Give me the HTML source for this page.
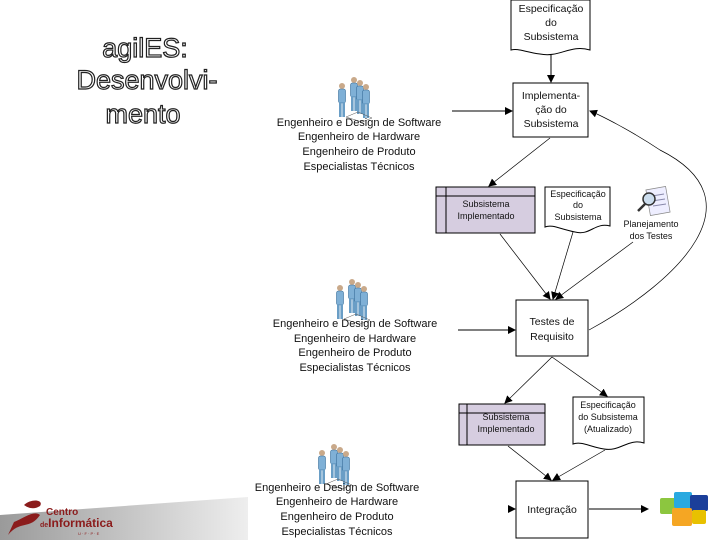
<!DOCTYPE html>
<html><head><meta charset="utf-8"><style>
html,body{margin:0;padding:0;background:#fff;}
svg{display:block;}
text{font-family:"Liberation Sans",sans-serif;}
</style></head><body>
<svg width="720" height="540" viewBox="0 0 720 540" xmlns="http://www.w3.org/2000/svg">
<defs>
<marker id="a" markerWidth="8" markerHeight="8" refX="7" refY="4" orient="auto" markerUnits="userSpaceOnUse"><path d="M0,0 L8,4 L0,8 z" fill="#000"/></marker>
<g id="p1"><circle cx="0" cy="0" r="3" fill="#c9a98a"/><rect x="-3.5" y="3" width="7" height="14" rx="2" fill="#7fb0d6" stroke="#3a6f99" stroke-width="0.6"/><rect x="-3" y="16" width="2.6" height="15" fill="#6a9ec6"/><rect x="0.4" y="16" width="2.6" height="15" fill="#6a9ec6"/></g>
<g id="ppl"><use href="#p1" x="6" y="8"/><use href="#p1" x="18" y="2"/><use href="#p1" x="24" y="5"/><use href="#p1" x="30" y="9"/><path d="M10 39 L22 34 L36 40 L26 44 z" fill="none" stroke="#555" stroke-width="0.5"/></g>
<linearGradient id="g" x1="0" x2="1"><stop offset="0" stop-color="#9a9a9a"/><stop offset="1" stop-color="#eeeeee"/></linearGradient>
</defs>

<!-- title -->
<g font-family="Liberation Sans" font-size="27" text-anchor="middle" fill="#fff" stroke="#222" stroke-width="1.2">
<text x="145" y="57">agilES:</text>
<text x="147" y="89">Desenvolvi-</text>
<text x="143" y="123">mento</text>
</g>

<!-- logo area -->
<path d="M0 540 L0 515 L248 497 L248 540 z" fill="url(#g)"/>
<path d="M8 535 C20 520 30 530 40 515 C34 510 24 518 14 522 z" fill="#8b1c1c"/>
<path d="M24 505 C32 498 44 500 40 506 C34 510 28 508 24 505 z" fill="#8b1c1c"/>
<text x="46" y="515" font-size="10" font-weight="bold" fill="#8b1c1c">Centro</text>
<text x="40" y="527" font-size="12" font-weight="bold" fill="#8b1c1c"><tspan font-size="7">de</tspan>Informática</text>
<text x="78" y="535" font-size="4" fill="#8b1c1c">U · F · P · E</text>

<g stroke="#000" stroke-width="1" fill="#fff">
<path d="M511 0 L590 0 L590 50 C570 44 560 58 540 54 C525 52 518 48 511 50 z"/>
<rect x="513" y="83" width="75" height="54"/>
<rect x="436" y="187" width="99" height="46" fill="#d6cde0"/>
<line x1="446" y1="187" x2="446" y2="233"/><line x1="436" y1="196" x2="535" y2="196"/>
<path d="M545 187 L610 187 L610 226 C595 222 590 236 575 232 C560 229 552 224 545 227 z"/>
<rect x="516" y="300" width="72" height="56"/>
<rect x="459" y="404" width="86" height="41" fill="#d6cde0"/>
<line x1="467" y1="404" x2="467" y2="445"/><line x1="459" y1="413" x2="545" y2="413"/>
<path d="M573 397 L644 397 L644 443 C628 438 620 452 604 449 C590 447 582 441 573 444 z"/>
<rect x="516" y="481" width="72" height="57"/>
</g>

<g stroke="#000" fill="none" stroke-width="1">
<line x1="551" y1="55" x2="551" y2="82" marker-end="url(#a)"/>
<line x1="452" y1="111" x2="512" y2="111" marker-end="url(#a)"/>
<g stroke-width="0.7">
<line x1="550" y1="138" x2="489" y2="186" marker-end="url(#a)"/>
<line x1="500" y1="234" x2="550" y2="299" marker-end="url(#a)"/>
<line x1="573" y1="232" x2="553" y2="299" marker-end="url(#a)"/>
<line x1="633" y1="242" x2="556" y2="299" marker-end="url(#a)"/>
<path d="M589 330 C680 280 760 200 660 150 C630 130 600 115 590 111" marker-end="url(#a)"/>
<line x1="552" y1="357" x2="505" y2="403" marker-end="url(#a)"/>
<line x1="552" y1="357" x2="607" y2="396" marker-end="url(#a)"/>
<line x1="508" y1="446" x2="551" y2="480" marker-end="url(#a)"/>
<line x1="605" y1="450" x2="553" y2="480" marker-end="url(#a)"/>
</g>
<line x1="458" y1="330" x2="515" y2="330" marker-end="url(#a)"/>
<line x1="508" y1="509" x2="515" y2="509" marker-end="url(#a)"/>
<line x1="589" y1="509" x2="648" y2="509" marker-end="url(#a)"/>
</g>

<g font-size="10.5" text-anchor="middle" fill="#111">
<text x="551" y="12">Especificação</text><text x="551" y="26">do</text><text x="551" y="40">Subsistema</text>
<text x="551" y="99">Implementa-</text><text x="551" y="113">ção do</text><text x="551" y="127">Subsistema</text>
<text x="552" y="325">Testes de</text><text x="552" y="340">Requisito</text>
<text x="552" y="513">Integração</text>
</g>
<g font-size="9" text-anchor="middle" fill="#111">
<text x="486" y="207">Subsistema</text><text x="486" y="219">Implementado</text>
<text x="578" y="197">Especificação</text><text x="578" y="208">do</text><text x="578" y="220">Subsistema</text>
<text x="651" y="227">Planejamento</text><text x="651" y="239">dos Testes</text>
<text x="506" y="420">Subsistema</text><text x="506" y="432">Implementado</text>
<text x="608" y="408">Especificação</text><text x="608" y="420">do Subsistema</text><text x="608" y="432">(Atualizado)</text>
</g>

<g transform="translate(640,186)">
<rect x="8" y="2" width="20" height="26" fill="#eef" stroke="#888" stroke-width="0.7" transform="rotate(-10 18 15)"/>
<line x1="12" y1="10" x2="24" y2="8" stroke="#88a"/><line x1="12" y1="15" x2="25" y2="13" stroke="#88a"/><line x1="13" y1="20" x2="26" y2="18" stroke="#88a"/>
<circle cx="9" cy="13" r="6" fill="#cde" stroke="#333" stroke-width="1.5"/>
<line x1="5" y1="18" x2="-2" y2="25" stroke="#333" stroke-width="2.5"/>
</g>

<use href="#ppl" x="336" y="78"/>
<use href="#ppl" x="334" y="280"/>
<use href="#ppl" x="316" y="445"/>
<g font-size="11" text-anchor="middle" fill="#111">
<text x="359" y="126">Engenheiro e Design de Software</text><text x="359" y="140">Engenheiro de Hardware</text><text x="359" y="155">Engenheiro de Produto</text><text x="359" y="170">Especialistas Técnicos</text>
<text x="355" y="327">Engenheiro e Design de Software</text><text x="355" y="342">Engenheiro de Hardware</text><text x="355" y="356">Engenheiro de Produto</text><text x="355" y="371">Especialistas Técnicos</text>
<text x="337" y="491">Engenheiro e Design de Software</text><text x="337" y="505">Engenheiro de Hardware</text><text x="337" y="520">Engenheiro de Produto</text><text x="337" y="535">Especialistas Técnicos</text>
</g>

<g>
<rect x="660" y="498" width="18" height="16" fill="#8cc63f" rx="2"/>
<rect x="674" y="492" width="18" height="16" fill="#29a9e0" rx="2"/>
<rect x="690" y="495" width="18" height="16" fill="#1b3f9a" rx="2"/>
<rect x="672" y="508" width="20" height="18" fill="#f5a623" rx="2"/>
<rect x="692" y="510" width="14" height="14" fill="#e8c100" rx="2"/>
</g>
</svg>
</body></html>
